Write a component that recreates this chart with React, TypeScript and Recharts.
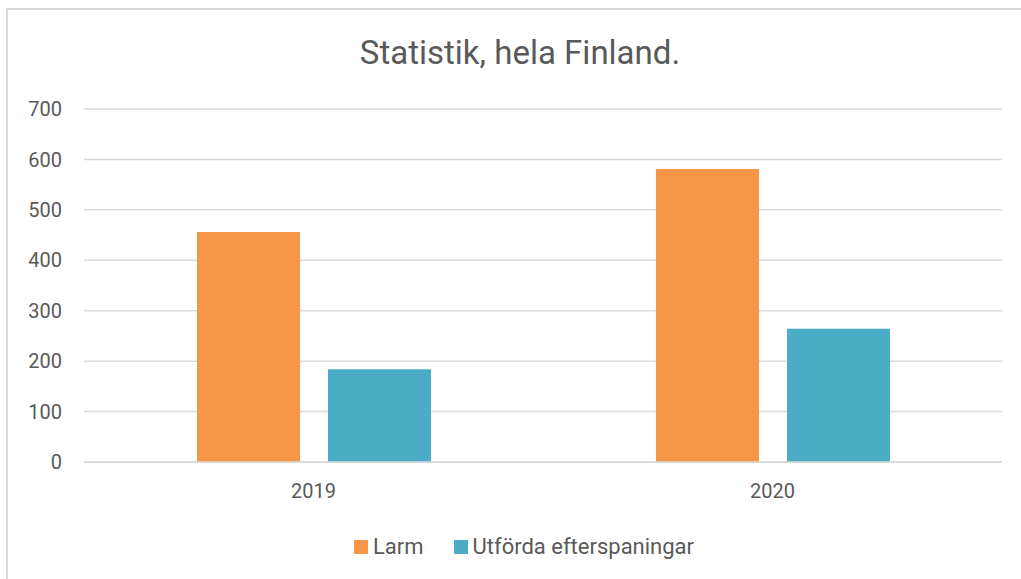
import { BarChart, Bar, XAxis, YAxis, CartesianGrid, Legend } from "recharts";

const years = ["2019", "2020"];
const larm = [456, 581];
const utforda = [184, 264];
const yTicks = [0, 100, 200, 300, 400, 500, 600, 700];

const data = years.map((year, i) => ({
  year,
  larm: larm[i],
  utforda: utforda[i],
}));

const FONT = "Roboto, 'Noto Sans', sans-serif";
const TEXT = "#595959";

const legendItems = [
  { label: "Larm", color: "#F79646" },
  { label: "Utförda efterspaningar", color: "#4BACC6" },
];

function ChartLegend() {
  return (
    <div
      style={{
        display: "flex",
        justifyContent: "center",
        gap: 30,
        fontFamily: FONT,
        fontSize: 22,
        lineHeight: "28px",
        color: TEXT,
        paddingLeft: 46,
      }}
    >
      {legendItems.map((item) => (
        <div key={item.label} style={{ display: "flex", alignItems: "center" }}>
          <span
            style={{
              width: 14,
              height: 14,
              background: item.color,
              display: "inline-block",
              marginRight: 5,
            }}
          />
          {item.label}
        </div>
      ))}
    </div>
  );
}

export default function App() {
  return (
    <div
      style={{
        position: "absolute",
        left: 0,
        top: 0,
        width: 1021,
        height: 579,
        overflow: "hidden",
        background: "#fff",
      }}
    >
      <div
        style={{
          position: "absolute",
          left: 6,
          top: 8,
          width: 1100,
          height: 700,
          borderTop: "2px solid #d9d9d9",
          borderLeft: "2px solid #d9d9d9",
        }}
      />
      <div
        style={{
          position: "absolute",
          top: 33,
          left: 0,
          width: 1040,
          textAlign: "center",
          fontFamily: FONT,
          fontSize: 33,
          color: TEXT,
        }}
      >
        Statistik, hela Finland.
      </div>
      <BarChart
        width={1021}
        height={579}
        data={data}
        margin={{ top: 109, right: 19, left: 0, bottom: 0 }}
        barGap={28}
        barSize={103}
      >
        <CartesianGrid vertical={false} stroke="#d9d9d9" strokeWidth={1.5} />
        <XAxis
          dataKey="year"
          axisLine={{ stroke: "#d9d9d9", strokeWidth: 1.5 }}
          tickLine={false}
          height={50}
          tickMargin={16}
          tick={{ fontSize: 20, fill: TEXT, fontFamily: FONT }}
        />
        <YAxis
          domain={[0, 700]}
          ticks={yTicks}
          width={84}
          axisLine={false}
          tickLine={false}
          tickMargin={16}
          tick={{ fontSize: 20, fill: TEXT, fontFamily: FONT }}
        />
        <Legend
          verticalAlign="bottom"
          content={<ChartLegend />}
          wrapperStyle={{ height: 67, top: 533 }}
        />
        <Bar dataKey="larm" name="Larm" fill="#F79646" isAnimationActive={false} />
        <Bar
          dataKey="utforda"
          name="Utförda efterspaningar"
          fill="#4BACC6"
          isAnimationActive={false}
        />
      </BarChart>
    </div>
  );
}
